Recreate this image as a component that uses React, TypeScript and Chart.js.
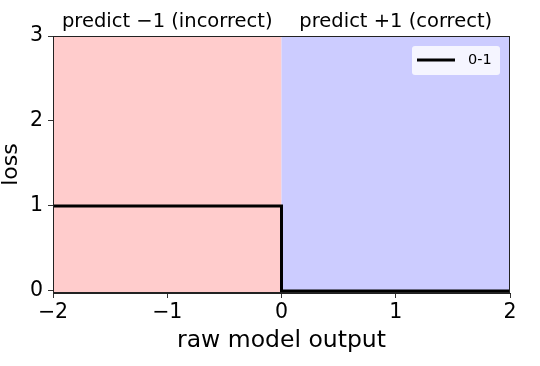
import React, { useEffect, useRef } from "react";
import { Chart, registerables } from "chart.js";

Chart.register(...registerables);

const stepX = [-2, 0, 0, 2];
const lossValues = [1, 1, 0, 0];
const xTicks = [-2, -1, 0, 1, 2];
const yTicks = [0, 1, 2, 3];
const regionTitles = ["predict \u22121 (incorrect)", "predict +1 (correct)"];
const regionCenters = [-1, 1];
const seriesLabel = "0-1";

const FONT = "'DejaVu Sans', sans-serif";

const fmt = (v: number) => (v < 0 ? "\u2212" + Math.abs(v) : String(v));

const regionsPlugin = {
  id: "regions",
  beforeDatasetsDraw(chart: any) {
    const { ctx, chartArea, scales } = chart;
    const x0 = scales.x.getPixelForValue(0);
    ctx.save();
    ctx.fillStyle = "#ffcccc";
    ctx.fillRect(chartArea.left, chartArea.top, x0 - chartArea.left, chartArea.bottom - chartArea.top);
    ctx.fillStyle = "#ccccff";
    ctx.fillRect(x0, chartArea.top, chartArea.right - x0, chartArea.bottom - chartArea.top);
    ctx.restore();
  },
  afterDraw(chart: any) {
    const { ctx, chartArea, scales } = chart;
    ctx.save();
    ctx.strokeStyle = "#222";
    ctx.lineWidth = 1;
    ctx.strokeRect(chartArea.left + 0.5, chartArea.top + 0.5, chartArea.right - chartArea.left - 1, chartArea.bottom - chartArea.top - 1);
    ctx.fillStyle = "#000";
    ctx.font = `19.5px ${FONT}`;
    ctx.textAlign = "center";
    ctx.textBaseline = "alphabetic";
    regionTitles.forEach((t, i) => {
      ctx.fillText(t, scales.x.getPixelForValue(regionCenters[i]), chartArea.top - 9);
    });
    const lx = chartArea.right - 98;
    const ly = chartArea.top + 10;
    ctx.fillStyle = "rgba(255,255,255,0.8)";
    ctx.beginPath();
    (ctx as any).roundRect(lx, ly, 88, 29, 3);
    ctx.fill();
    ctx.strokeStyle = "#000";
    ctx.lineWidth = 3;
    ctx.beginPath();
    ctx.moveTo(lx + 5, ly + 14);
    ctx.lineTo(lx + 43, ly + 14);
    ctx.stroke();
    ctx.fillStyle = "#000";
    ctx.font = `14.5px ${FONT}`;
    ctx.textAlign = "left";
    ctx.textBaseline = "middle";
    ctx.fillText(seriesLabel, lx + 56, ly + 14);
    ctx.restore();
  },
};

export default function App() {
  const ref = useRef<HTMLCanvasElement>(null);
  useEffect(() => {
    if (!ref.current) return;
    const chart = new Chart(ref.current, {
      type: "line",
      data: {
        datasets: [
          {
            label: seriesLabel,
            data: stepX.map((x, i) => ({ x, y: lossValues[i] })),
            borderColor: "#000",
            borderWidth: 3,
            pointRadius: 0,
            tension: 0,
            fill: false,
          },
        ],
      },
      options: {
        animation: false,
        responsive: false,
        layout: { padding: { top: 36, right: 30, left: 0, bottom: 0 } },
        plugins: { legend: { display: false }, tooltip: { enabled: false } },
        scales: {
          x: {
            type: "linear",
            min: -2,
            max: 2,
            afterBuildTicks: (s: any) => {
              s.ticks = xTicks.map((v) => ({ value: v }));
            },
            afterFit: (s: any) => {
              s.height = 73;
            },
            grid: { drawOnChartArea: false, drawTicks: true, tickLength: 5, color: "#333" },
            border: { display: true, color: "#222", width: 1 },
            ticks: {
              color: "#000",
              font: { family: FONT, size: 20.5 },
              padding: 2,
              maxRotation: 0,
              callback: (v: any) => fmt(Number(v)),
            },
            title: {
              display: true,
              text: "raw model output",
              color: "#000",
              font: { family: FONT, size: 23.5 },
              padding: { top: 0, bottom: 11 },
            },
          },
          y: {
            type: "linear",
            min: -0.025,
            max: 3,
            afterBuildTicks: (s: any) => {
              s.ticks = yTicks.map((v) => ({ value: v }));
            },
            afterFit: (s: any) => {
              s.width = 53;
            },
            grid: { drawOnChartArea: false, drawTicks: true, tickLength: 5, color: "#333" },
            border: { display: true, color: "#222", width: 1 },
            ticks: {
              color: "#000",
              font: { family: FONT, size: 20.5 },
              padding: 5,
              callback: (v: any) => fmt(Number(v)),
            },
            title: {
              display: true,
              text: "loss",
              color: "#000",
              font: { family: FONT, size: 22, lineHeight: 1 },
              padding: { top: 0, bottom: 0 },
            },
          },
        },
      },
      plugins: [regionsPlugin],
    });
    return () => chart.destroy();
  }, []);
  return (
    <div style={{ position: "absolute", left: 0, top: 0, width: 540, height: 366, background: "#fff" }}>
      <canvas ref={ref} width={540} height={366} style={{ display: "block" }} />
    </div>
  );
}
